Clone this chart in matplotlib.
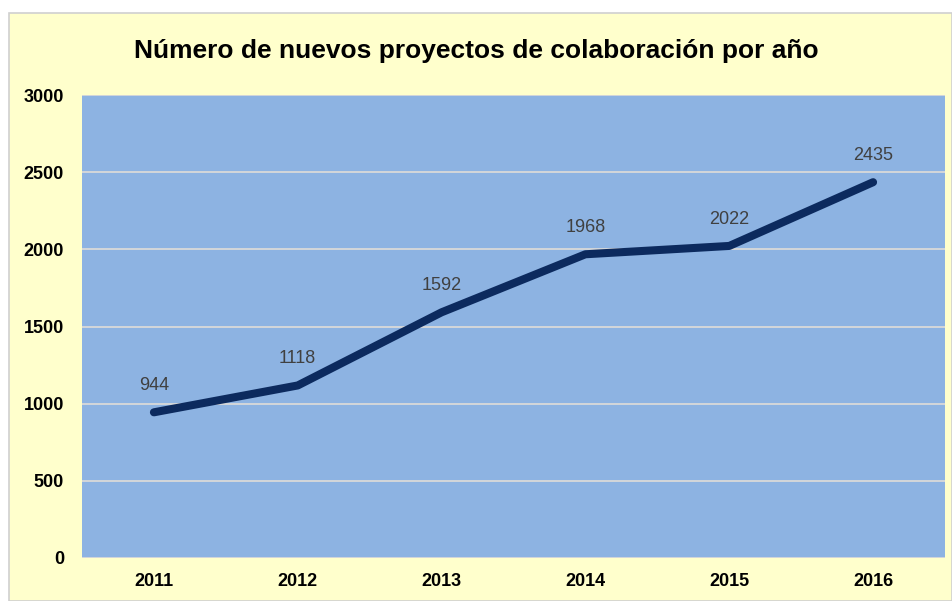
import matplotlib
matplotlib.use("Agg")
import matplotlib.pyplot as plt
from matplotlib.patches import Rectangle
from matplotlib import font_manager

years = ["2011", "2012", "2013", "2014", "2015", "2016"]
projects = [944, 1118, 1592, 1968, 2022, 2435]
yticks = [0, 500, 1000, 1500, 2000, 2500, 3000]
title = "Número de nuevos proyectos de colaboración por año"

names = {f.name for f in font_manager.fontManager.ttflist}
fam = ["Liberation Sans Narrow", "DejaVu Sans"] if "Liberation Sans Narrow" in names else ["Liberation Sans", "DejaVu Sans"]
plt.rcParams['font.family'] = fam

W, H = 952, 601
fig = plt.figure(figsize=(W/100, H/100), dpi=100)
fig.patch.set_facecolor("white")
bg = Rectangle((9/W, 0), 1 - 9/W, 1 - 13/H, transform=fig.transFigure,
               facecolor="#FFFFCC", edgecolor="#D0D0D0", linewidth=1.2, zorder=-10)
fig.patches.append(bg)

L, R, T, B = 82, 945, 95, 558
ax = fig.add_axes([L/W, 1 - B/H, (R-L)/W, (B-T)/H])
ax.set_zorder(1)
ax.set_facecolor("#8DB3E2")
x = list(range(len(years)))
ax.plot(x, projects, color="#0C2A5E", linewidth=5.8, solid_capstyle="round", zorder=3)
for xi, v in zip(x, projects):
    ax.annotate(str(v), (xi, v), xytext=(0, 13), textcoords="offset points",
                ha="center", va="bottom", fontsize=13, color="#404040")
ax.set_xlim(-0.5, len(years) - 0.5)
ax.set_ylim(0, 3000)
ax.set_yticks(yticks)
ax.set_yticklabels([str(t) for t in yticks], fontsize=13, fontweight="bold")
ax.set_xticks(x)
ax.set_xticklabels(years, fontsize=13, fontweight="bold")
ax.tick_params(length=0, pad=13)
ax.tick_params(axis="x", pad=11)
ax.grid(axis="y", color="#D9D9D9", linewidth=1.3)
ax.set_axisbelow(True)
for s in ax.spines.values():
    s.set_visible(False)
fig.text(0.5, 1 - 51/H, title, ha="center", va="center", fontsize=19, fontweight="bold", color="black")
fig.savefig("out.png", dpi=100)
